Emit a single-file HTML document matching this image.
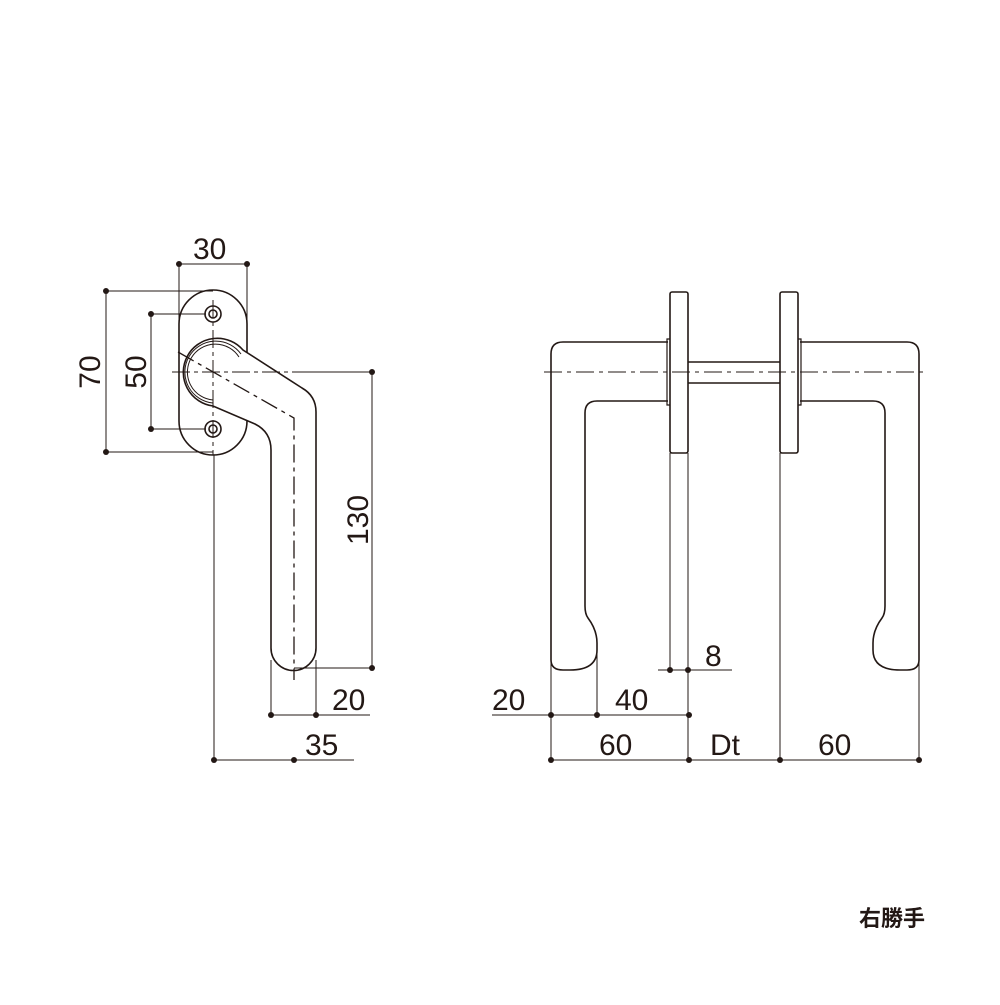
<!DOCTYPE html>
<html><head><meta charset="utf-8"><style>
html,body{margin:0;padding:0;background:#fff}
svg text{font-family:"Liberation Sans","Noto Sans CJK JP",sans-serif;fill:#231815}
</style></head><body>
<svg width="1000" height="1000" viewBox="0 0 1000 1000" xmlns="http://www.w3.org/2000/svg">
<g fill="none" stroke="#231815" stroke-width="1.6">
<path d="M179,324 A34,34 0 0 1 247,324 L247,421 A34,34 0 0 1 179,421 Z" fill="#fff"/>
<circle cx="213" cy="314" r="8"/><circle cx="213" cy="314" r="4"/>
<circle cx="213" cy="429" r="8"/><circle cx="213" cy="429" r="4"/>
<path d="M243,350 A34,34 0 1 0 213,406 L255,424 Q271,432 271,450 L271,648 A22.5,22.5 0 0 0 316,648 L316,412 Q316,396 302,388 Z" fill="#fff"/>
<path d="M241,354 A31,31 0 1 0 213,403" stroke-width="1"/>
<path d="M239,357 A28,28 0 1 0 213,400" stroke-width="1"/>
</g>
<g fill="none" stroke="#231815" stroke-width="1">
<path d="M213,300 V455 M172,372 H300" stroke-dasharray="18,4,4,4"/>
<path d="M300,372 H372 M214,455 V760"/>
<path d="M178,352 L294,418 L294,680" stroke-dasharray="18,5,4,5" stroke-width="1.3"/>
<path d="M179,264 H247 M179,264 V324 M247,264 V324"/>
<path d="M106,291 V452 M106,291 H213 M106,452 H213"/>
<path d="M151,314 V429 M151,314 H206 M151,429 H206"/>
<path d="M372,372 V668 M294,668 H372"/>
<path d="M271,660 V715 M316,660 V715 M271,715 H370"/>
<path d="M214,760 H354"/>
<path d="M668,342 H563 Q551,342 551,354 V660 Q551,670 563,670 H570 Q597,670 597,650 V643 Q597,630 588,618 Q585,614 585,606 V413 Q585,401 597,401 H668" stroke-width="1.6"/>
<path d="M800,342 H907 Q919,342 919,354 V660 Q919,670 907,670 H900 Q873,670 873,650 V643 Q873,630 882,618 Q885,614 885,606 V413 Q885,401 873,401 H800" stroke-width="1.6"/>
<path d="M670,339 H667 V405 H670 M798,339 H801 V405 H798" stroke-width="1.2"/>
<rect x="670" y="292" width="18" height="161" rx="2" fill="#fff" stroke-width="1.6"/>
<rect x="780" y="292" width="18" height="161" rx="2" fill="#fff" stroke-width="1.6"/>
<path d="M688,362 H780 M688,383 H780" stroke-width="1.4"/>
<path d="M544,372 H924" stroke-dasharray="18,5,4,5"/>
<path d="M670,453 V670 M688,453 V760 M780,453 V760 M551,660 V760 M597,650 V715 M919,660 V760"/>
<path d="M658,670 H732 M492,715 H689 M551,760 H919"/>
</g>
<g fill="#231815">
<circle cx="179" cy="264" r="3"/><circle cx="247" cy="264" r="3"/>
<circle cx="106" cy="291" r="3"/><circle cx="106" cy="452" r="3"/>
<circle cx="151" cy="314" r="3"/><circle cx="151" cy="429" r="3"/>
<circle cx="372" cy="372" r="3"/><circle cx="372" cy="668" r="3"/>
<circle cx="271" cy="715" r="3"/><circle cx="316" cy="715" r="3"/>
<circle cx="214" cy="760" r="3"/><circle cx="294" cy="760" r="3"/>
<circle cx="670" cy="670" r="3"/><circle cx="688" cy="670" r="3"/>
<circle cx="551" cy="715" r="3"/><circle cx="597" cy="715" r="3"/><circle cx="689" cy="715" r="3"/>
<circle cx="551" cy="760" r="3"/><circle cx="689" cy="760" r="3"/><circle cx="780" cy="760" r="3"/><circle cx="919" cy="760" r="3"/>
</g>
<g font-size="30">
<text x="193" y="259">30</text>
<text x="100" y="372" transform="rotate(-90 100 372)" text-anchor="middle">70</text>
<text x="146" y="372" transform="rotate(-90 146 372)" text-anchor="middle">50</text>
<text x="368" y="520" transform="rotate(-90 368 520)" text-anchor="middle">130</text>
<text x="332" y="710">20</text>
<text x="305" y="755">35</text>
<text x="705" y="666">8</text>
<text x="492" y="710">20</text>
<text x="615" y="710">40</text>
<text x="599" y="755">60</text>
<text x="710" y="755">Dt</text>
<text x="818" y="755">60</text>
</g>
<text x="859" y="926" font-size="22" font-weight="bold">右勝手</text>
</svg>
</body></html>
